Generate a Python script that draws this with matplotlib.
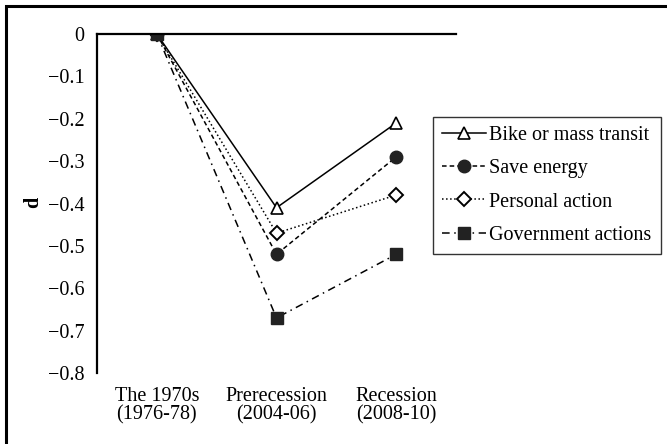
import matplotlib
matplotlib.use("Agg")
import matplotlib.pyplot as plt
from matplotlib.patches import Rectangle

plt.rcParams['font.family'] = ['Liberation Serif', 'DejaVu Serif']
plt.rcParams['font.size'] = 14.5
plt.rcParams['axes.unicode_minus'] = True

# periods on the x axis
periods = ["The 1970s\n(1976-78)", "Prerecession\n(2004-06)", "Recession\n(2008-10)"]
x_pos = [1, 2, 3]

# effect size d per item
bike = [0.0, -0.41, -0.21]
save_energy = [0.0, -0.52, -0.29]
personal = [0.0, -0.47, -0.38]
government = [0.0, -0.67, -0.52]

y_ticks = [0, -0.1, -0.2, -0.3, -0.4, -0.5, -0.6, -0.7, -0.8]

fig = plt.figure(figsize=(6.67, 4.44), dpi=100)
ax = fig.add_axes([97 / 667, 1 - 373 / 444, 359 / 667, 339 / 444])

ax.plot(x_pos, bike, '-', color='black', linewidth=1.1, marker='^',
        markersize=8, markerfacecolor='white', markeredgecolor='black',
        markeredgewidth=1.2, label="Bike or mass transit")
ax.plot(x_pos, save_energy, '--', color='black', linewidth=1.1, marker='o',
        markersize=9, markerfacecolor='#222222', markeredgecolor='#222222',
        dashes=(3, 2), label="Save energy")
ax.plot(x_pos, personal, ':', color='black', linewidth=1.1, marker='D',
        markersize=7, markerfacecolor='white', markeredgecolor='black',
        markeredgewidth=1.4, label="Personal action")
ax.plot(x_pos, government, '-.', color='black', linewidth=1.1, marker='s',
        markersize=9, markerfacecolor='#222222', markeredgecolor='#222222',
        dashes=(5, 3, 1, 3), label="Government actions")

ax.set_xlim(0.5, 3.5)
ax.set_ylim(-0.8, 0)
ax.set_yticks(y_ticks)
ax.set_yticklabels(["0" if v == 0 else "\u2212" + f"{abs(v):.1f}" for v in y_ticks])
ax.set_xticks(x_pos)
ax.set_xticklabels(periods, linespacing=0.95)
ax.tick_params(axis='both', length=0)
ax.tick_params(axis='x', pad=10)
ax.tick_params(axis='y', pad=9)

for s in ['bottom', 'right']:
    ax.spines[s].set_visible(False)
ax.spines['left'].set_linewidth(1.6)
ax.spines['top'].set_linewidth(1.6)

ax.set_ylabel("d", fontweight='bold')
ax.yaxis.set_label_coords(43 / 667, 1 - 202 / 444, transform=fig.transFigure)

leg = ax.legend(loc='upper left', bbox_to_anchor=(433 / 667, 1 - 117 / 444),
                bbox_transform=fig.transFigure, borderaxespad=0,
                frameon=True, fancybox=False, edgecolor='black',
                handlelength=2.2, handletextpad=0.15, labelspacing=0.7,
                borderpad=0.45)
leg.get_frame().set_linewidth(1.0)

# outer frame around the whole picture
fig.patches.append(Rectangle((6 / 667, -0.1), 1.2, 1 - 6 / 444 + 0.1,
                             transform=fig.transFigure, fill=False,
                             edgecolor='black', linewidth=2.2))

fig.savefig("out.png", dpi=100)
